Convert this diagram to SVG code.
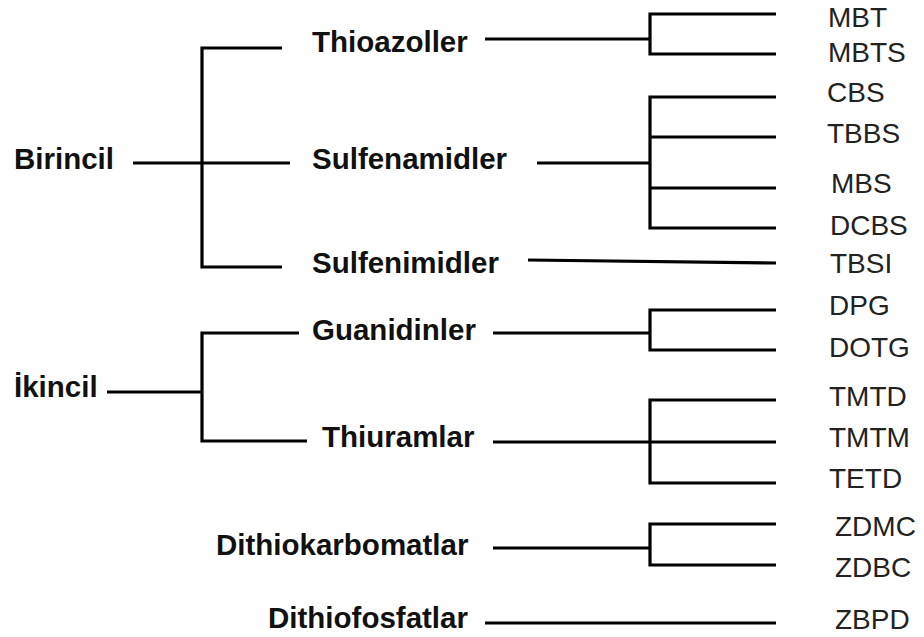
<svg xmlns="http://www.w3.org/2000/svg" width="924" height="637" viewBox="0 0 924 637">
<style>
.b{font-family:"Liberation Sans",Arial,sans-serif;font-weight:bold;font-size:29.5px;fill:#111}
.r{font-family:"Liberation Sans",Arial,sans-serif;font-size:28px;fill:#222}
.c{fill:none;stroke:#000;stroke-width:3.2}
</style>
<rect width="924" height="637" fill="#fff"/>
<g id="connectors">
<path class="c" d="M282,48 H202 V267 H282 M133,163 H290"/>
<path class="c" d="M485,39 H650 M776,14 H650 V54 H776"/>
<path class="c" d="M537,163 H650 M776,97 H650 V228 H776 M650,137 H776 M650,188 H776"/>
<path class="c" d="M528,260 L776,263"/>
<path class="c" d="M107,392 H202 M299,333 H202 V441 H307"/>
<path class="c" d="M493,333 H650 M776,310 H650 V350 H776"/>
<path class="c" d="M493,442 H776 M776,400 H650 V483 H776"/>
<path class="c" d="M493,548 H650 M776,524 H650 V565 H776"/>
<path class="c" d="M485,623 H776"/>
</g>
<g id="birincil"><text class="b" x="14" y="169">Birincil</text></g>
<g id="ikincil"><text class="b" x="14" y="397">İkincil</text></g>
<g id="thioazoller"><text class="b" x="312" y="52">Thioazoller</text></g>
<g id="sulfenamidler"><text class="b" x="312" y="169">Sulfenamidler</text></g>
<g id="sulfenimidler"><text class="b" x="312" y="273">Sulfenimidler</text></g>
<g id="guanidinler"><text class="b" x="312" y="340">Guanidinler</text></g>
<g id="thiuramlar"><text class="b" x="322" y="447">Thiuramlar</text></g>
<g id="dithiokarbomatlar"><text class="b" x="216" y="555">Dithiokarbomatlar</text></g>
<g id="dithiofosfatlar"><text class="b" x="268" y="628">Dithiofosfatlar</text></g>
<g id="mbt"><text class="r" x="828" y="27">MBT</text></g>
<g id="mbts"><text class="r" x="828" y="62">MBTS</text></g>
<g id="cbs"><text class="r" x="827" y="102">CBS</text></g>
<g id="tbbs"><text class="r" x="827" y="143">TBBS</text></g>
<g id="mbs"><text class="r" x="831" y="193">MBS</text></g>
<g id="dcbs"><text class="r" x="830" y="235">DCBS</text></g>
<g id="tbsi"><text class="r" x="830" y="273">TBSI</text></g>
<g id="dpg"><text class="r" x="829" y="315">DPG</text></g>
<g id="dotg"><text class="r" x="829" y="357">DOTG</text></g>
<g id="tmtd"><text class="r" x="829" y="406">TMTD</text></g>
<g id="tmtm"><text class="r" x="829" y="447">TMTM</text></g>
<g id="tetd"><text class="r" x="829" y="488">TETD</text></g>
<g id="zdmc"><text class="r" x="835" y="536">ZDMC</text></g>
<g id="zdbc"><text class="r" x="835" y="577">ZDBC</text></g>
<g id="zbpd"><text class="r" x="835" y="629">ZBPD</text></g>
</svg>
